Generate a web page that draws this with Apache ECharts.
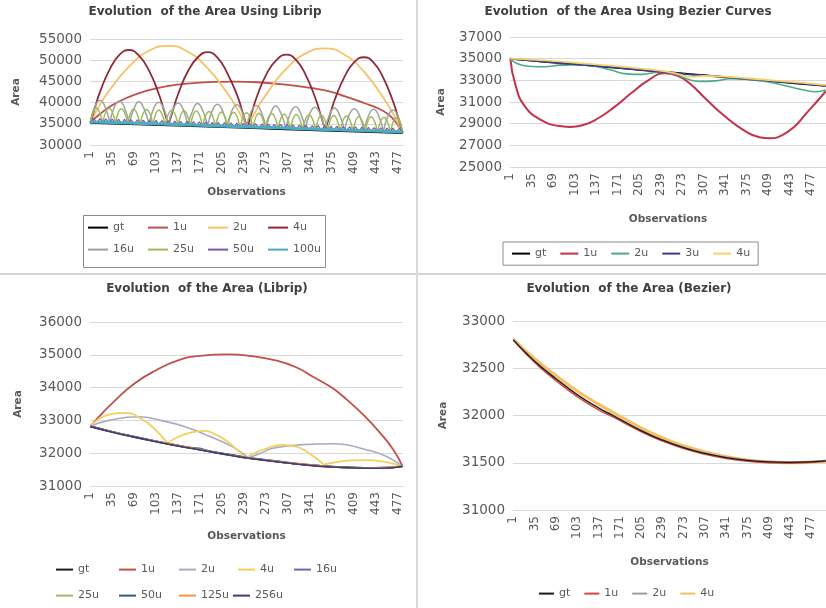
<!DOCTYPE html>
<html><head><meta charset="utf-8">
<script src="https://cdn.jsdelivr.net/npm/echarts/dist/echarts.min.js"></script>
<style>html,body{margin:0;padding:0;background:#fff}#c{width:826px;height:608px}</style>
</head><body><div id="c"></div>
<script>
// ---------- categories & ticks ----------
const obsLibrip = Array.from({length: 485}, (_, i) => String(i + 1));
const obsBezier = Array.from({length: 500}, (_, i) => String(i + 1));
const titles = ['Evolution  of the Area Using Librip', 'Evolution  of the Area Using Bezier Curves', 'Evolution  of the Area (Librip)', 'Evolution  of the Area (Bezier)'];
const yRange1 = [30000, 55000, 5000];
const yRange2 = [25000, 37000, 2000];
const yRange3 = [31000, 36000, 1000];
const yRange4 = [31000, 33000, 500];

// ---------- Panel 1 : Librip ----------
const p1Gt = [[1,35300],[61,35000],[122,34700],[183,34400],[243,34100],[304,33800],[364,33500],[425,33200],[485,32900]];
const p1U1 = [[1,35300],[15,37200],[34,39300],[60,41300],[86,42700],[120,43900],[160,44600],[200,44900],[225,44950],[260,44800],[300,44300],[345,43400],[370,42700],[397,41400],[425,39900],[449,38500],[468,36500],[485,32900]];
const p1U2 = [
 [[1,35300],[16,39530],[31,43000],[62,48650],[92,52240],[122,53400],[153,51940],[183,48050],[214,42090],[229,38470],[244,34100]],
 [[244,34100],[259,38470],[274,42050],[304,47890],[335,51600],[365,52800],[395,51300],[425,47290],[455,41150],[470,37420],[485,32900]]
];
const p1U4 = [
 [[1,35300],[9,39260],[16,42530],[31,47850],[46,51260],[61,52400],[76,51110],[92,47550],[107,42080],[114,38740],[122,34700]],
 [[122,34700],[130,38690],[137,41980],[152,47330],[168,50750],[183,51900],[198,50610],[213,47030],[229,41520],[236,38170],[244,34100]],
 [[244,34100],[252,38090],[259,41380],[274,46730],[290,50150],[305,51300],[320,50000],[335,46430],[350,40920],[357,37570],[365,33500]],
 [[365,33500],[373,37490],[380,40780],[395,46130],[410,49560],[425,50700],[440,49410],[455,45830],[470,40330],[477,36970],[485,32900]]
];
const p1U16 = [
 [[1,35300],[8,39000],[16,40525],[24,38950],[31,35150]],
 [[31,35150],[38,38850],[46,40375],[54,38800],[61,35000]],
 [[61,35000],[69,38700],[76,40225],[84,38650],[92,34850]],
 [[92,34850],[99,38550],[107,40075],[115,38500],[122,34700]],
 [[122,34700],[129,38400],[137,39925],[145,38350],[152,34550]],
 [[152,34550],[160,38250],[167,39775],[175,38200],[183,34400]],
 [[183,34400],[190,38100],[198,39625],[206,38050],[213,34250]],
 [[213,34250],[220,37950],[228,39475],[236,37900],[243,34100]],
 [[243,34100],[250,37800],[258,39325],[266,37750],[273,33950]],
 [[273,33950],[281,37650],[288,39175],[296,37600],[304,33800]],
 [[304,33800],[311,37500],[319,39025],[327,37450],[334,33650]],
 [[334,33650],[341,37350],[349,38875],[357,37300],[364,33500]],
 [[364,33500],[372,37200],[379,38725],[387,37150],[395,33350]],
 [[395,33350],[402,37050],[410,38575],[418,37000],[425,33200]],
 [[425,33200],[432,36900],[440,38425],[448,36850],[455,33050]],
 [[455,33050],[462,36750],[470,38275],[478,36700],[485,32900]]
];
const p1U25 = [
 [[1,35300],[10,38760],[20,35210]],[[20,35210],[30,38660],[40,35110]],[[40,35110],[49,38560],[59,35010]],
 [[59,35010],[68,38470],[78,34920]],[[78,34920],[88,38370],[98,34820]],[[98,34820],[107,38270],[117,34720]],
 [[117,34720],[127,38180],[137,34630]],[[137,34630],[146,38080],[156,34530]],[[156,34530],[165,37990],[175,34440]],
 [[175,34440],[185,37890],[195,34340]],[[195,34340],[204,37790],[214,34240]],[[214,34240],[223,37700],[233,34150]],
 [[233,34150],[243,37600],[253,34050]],[[253,34050],[262,37510],[272,33960]],[[272,33960],[282,37410],[292,33860]],
 [[292,33860],[301,37310],[311,33760]],[[311,33760],[320,37220],[330,33670]],[[330,33670],[340,37120],[350,33570]],
 [[350,33570],[359,37020],[369,33470]],[[369,33470],[378,36930],[388,33380]],[[388,33380],[398,36830],[408,33280]],
 [[408,33280],[417,36740],[427,33190]],[[427,33190],[436,36640],[446,33090]],[[446,33090],[456,36540],[466,32990]],
 [[466,32990],[475,36450],[485,32900]]
];
const p1U50 = [[1,35300],[6,36280],[11,35250],[16,36230],[20,35200],[25,36180],[30,35160],[35,36130],[40,35110],[45,36080],[49,35060],[54,36040],[59,35010],[64,35990],[69,34960],[74,35940],[78,34920],[83,35890],[88,34870],[93,35840],[98,34820],[103,35800],[107,34770],[112,35750],[117,34720],[122,35700],[127,34680],[132,35650],[136,34630],[141,35600],[146,34580],[151,35560],[156,34530],[161,35510],[165,34480],[170,35460],[175,34440],[180,35410],[185,34390],[190,35360],[195,34340],[199,35320],[204,34290],[209,35270],[214,34240],[219,35220],[224,34200],[228,35170],[233,34150],[238,35120],[243,34100],[248,35080],[253,34050],[257,35030],[262,34000],[267,34980],[272,33960],[277,34930],[282,33910],[286,34880],[291,33860],[296,34840],[301,33810],[306,34790],[311,33760],[315,34740],[320,33720],[325,34690],[330,33670],[335,34640],[340,33620],[345,34600],[349,33570],[354,34550],[359,33520],[364,34500],[369,33480],[374,34450],[378,33430],[383,34400],[388,33380],[393,34360],[398,33330],[403,34310],[407,33280],[412,34260],[417,33240],[422,34210],[427,33190],[432,34160],[436,33140],[441,34120],[446,33090],[451,34070],[456,33040],[461,34020],[465,33000],[470,33970],[475,32950],[480,33920],[485,32900]];
const p1U100 = [[1,35450],[40,35280],[80,35090],[122,34880],[160,34690],[200,34500],[243,34280],[280,34100],[320,33900],[364,33680],[400,33500],[440,33300],[485,33050]];

// ---------- Panel 2 : Bezier curves ----------
const p2Gt = [[1,35000],[35,34830],[69,34660],[103,34490],[137,34320],[171,34150],[205,33980],[239,33800],[273,33630],[307,33460],[341,33290],[375,33120],[409,32950],[443,32780],[477,32610],[500,32500]];
const p2U1 = [[1,35000],[9,32600],[24,30600],[51,29300],[76,28800],[95,28700],[115,28850],[140,29500],[166,30550],[192,31800],[218,32950],[245,33650],[265,33450],[285,32700],[310,31300],[340,29700],[370,28400],[395,27750],[412,27650],[430,27900],[450,28700],[470,30000],[490,31300],[500,32000]];
const p2U2 = [[1,35000],[10,34600],[30,34300],[55,34250],[80,34400],[110,34450],[135,34300],[160,33950],[185,33600],[210,33550],[235,33750],[255,33700],[280,33150],[300,32900],[325,32950],[350,33150],[380,33050],[410,32850],[440,32450],[465,32100],[485,31950],[500,32100]];
const p2U3 = [[1,35000],[40,34780],[80,34560],[120,34400],[160,34200],[200,34000],[240,33780],[280,33580],[320,33400],[360,33200],[400,33000],[440,32800],[480,32600],[500,32480]];
const p2U4 = [[1,35000],[40,34880],[80,34720],[120,34540],[160,34350],[200,34120],[240,33870],[265,33600],[285,33350],[305,33400],[340,33350],[380,33170],[420,32980],[460,32780],[500,32560]];

// ---------- Panel 3 : Librip ----------
const p3Gt = [[1,32820],[35,32650],[69,32500],[103,32360],[137,32230],[171,32110],[205,31990],[239,31880],[273,31790],[307,31710],[341,31640],[375,31590],[409,31560],[443,31550],[470,31570],[485,31600]];
const p3U1 = [[1,32820],[20,33230],[40,33620],[69,34120],[103,34530],[137,34830],[171,34970],[215,35010],[250,34960],[290,34820],[320,34620],[346,34330],[375,34000],[398,33640],[425,33150],[450,32620],[470,32120],[485,31600]];
const p3U2 = [
 [[1,32820],[30,33000],[76,33110],[110,33000],[149,32800],[185,32520],[221,32200],[246,31860]],
 [[246,31860],[265,32000],[284,32150],[330,32260],[377,32290],[430,32100],[460,31900],[485,31600]]
];
const p3U4 = [
 [[1,32820],[15,33050],[35,33200],[55,33230],[80,33050],[100,32750],[121,32300]],
 [[121,32300],[135,32480],[155,32620],[177,32680],[200,32520],[220,32250],[242,31850]],
 [[242,31850],[255,32000],[275,32150],[300,32250],[320,32200],[340,32000],[363,31650]],
 [[363,31650],[380,31720],[405,31780],[430,31790],[455,31740],[470,31680],[485,31600]]
];
const p3U16 = [[1,32820],[30,32680],[61,32540],[91,32410],[121,32290],[150,32180],[171,32150],[182,32080],[212,31970],[242,31850],[255,31840],[272,31790],[303,31710],[333,31650],[363,31600],[394,31565],[424,31545],[455,31550],[485,31600]];
const p3U25 = [[1,32820],[40,32630],[80,32450],[121,32300],[160,32150],[200,32000],[242,31870],[280,31770],[320,31680],[363,31610],[400,31565],[440,31545],[485,31600]];
const p3U50 = [[1,32820],[50,32580],[100,32370],[150,32190],[200,32010],[250,31850],[300,31720],[350,31630],[400,31570],[450,31550],[485,31600]];
const p3U125 = [[1,32820],[60,32530],[121,32300],[182,32070],[242,31870],[303,31720],[363,31610],[424,31550],[485,31600]];
const p3U256 = [[1,32810],[35,32640],[69,32490],[103,32350],[137,32220],[171,32100],[205,31980],[239,31870],[273,31780],[307,31700],[341,31630],[375,31580],[409,31550],[443,31540],[470,31560],[485,31600]];

// ---------- Panel 4 : Bezier ----------
const p4Gt = [[1,32800],[23,32650],[46,32510],[69,32390],[103,32220],[137,32080],[160,32000],[205,31840],[239,31740],[273,31660],[307,31600],[341,31555],[375,31525],[409,31510],[443,31505],[477,31510],[500,31520]];
const p4U1 = [[1,32800],[23,32640],[46,32495],[69,32370],[103,32200],[137,32060],[160,31985],[205,31830],[239,31730],[273,31650],[307,31590],[341,31545],[375,31515],[409,31500],[443,31495],[477,31505],[500,31515]];
const p4U2 = [[1,32800],[23,32655],[46,32515],[69,32395],[103,32225],[137,32085],[160,32005],[205,31845],[239,31745],[273,31665],[307,31605],[341,31560],[375,31530],[409,31515],[443,31510],[477,31515],[500,31525]];
const p4U4 = [[1,32810],[23,32670],[46,32540],[69,32425],[103,32260],[137,32120],[160,32035],[205,31870],[239,31765],[273,31680],[307,31615],[341,31565],[375,31530],[409,31510],[443,31500],[477,31505],[500,31515]];

// ---------- helpers ----------
const FONT = 'DejaVu Sans';
function pts(list) { return list.map(p => [p[0] - 1, p[1]]); }
function arches(segs) {
  const out = [];
  segs.forEach((s, i) => {
    if (i > 0) out.push([s[0][0] - 1, '-']);
    s.forEach(p => out.push([p[0] - 1, p[1]]));
  });
  return out;
}
function mk(name, g, color, data, width, smooth, extra) {
  return Object.assign({
    type: 'line', name: name, xAxisIndex: g, yAxisIndex: g, data: data,
    symbol: 'none', showSymbol: false, smooth: smooth, connectNulls: false,
    lineStyle: { color: color, width: width }, itemStyle: { color: color },
    emphasis: { disabled: true }, silent: true, animation: false
  }, extra || {});
}
function xAx(g, cats, gap) {
  return {
    type: 'category', gridIndex: g, data: cats, boundaryGap: true,
    axisTick: { show: false }, axisLine: { lineStyle: { color: '#d9d9d9' } },
    axisLabel: { interval: 33, rotate: 90, fontSize: 12, color: '#595959', margin: 6, fontFamily: FONT },
    splitLine: { show: false },
    name: 'Observations', nameLocation: 'middle', nameGap: gap,
    nameTextStyle: { fontWeight: 'bold', fontSize: 10.5, color: '#595959', fontFamily: FONT }
  };
}
function yAx(g, r, gap) {
  return {
    type: 'value', gridIndex: g, min: r[0], max: r[1], interval: r[2],
    axisLine: { show: false }, axisTick: { show: false },
    axisLabel: { fontSize: 13.5, color: '#595959', margin: 8, fontFamily: FONT, formatter: v => String(v) },
    splitLine: { lineStyle: { color: '#d9d9d9', width: 1 } },
    name: 'Area', nameLocation: 'middle', nameGap: gap,
    nameTextStyle: { fontWeight: 'bold', fontSize: 10.5, color: '#595959', fontFamily: FONT }
  };
}
const strip = n => n.split('|')[1];
const titleStyle = { fontSize: 12, fontWeight: 'bold', color: '#404040', fontFamily: FONT };
const noSym = { opacity: 0, borderWidth: 0 };
const legTS = { fontSize: 11, color: '#595959', fontFamily: FONT };

// legend item placement (layout only): [seriesName, left, top, lineLength]
const legendSlots = [
  ['a|gt', 87, 222, 20], ['a|1u', 147, 222, 20], ['a|2u', 207, 222, 20], ['a|4u', 267, 222, 20],
  ['a|16u', 87, 244, 20], ['a|25u', 147, 244, 20], ['a|50u', 207, 244, 20], ['a|100u', 267, 244, 20],
  ['c|gt', 55, 564, 17], ['c|1u', 118, 564, 17], ['c|2u', 178, 564, 17], ['c|4u', 237, 564, 17], ['c|16u', 293, 564, 17],
  ['c|25u', 55, 590, 17], ['c|50u', 118, 590, 17], ['c|125u', 178, 590, 17], ['c|256u', 232, 590, 17]
];
const legends = legendSlots.map(s => ({
  data: [s[0]], formatter: strip, left: s[1], top: s[2], itemWidth: s[3], itemHeight: 14,
  padding: 0, itemStyle: noSym, textStyle: legTS, selectedMode: false
}));
legends.push(
  { data: ['b|gt','b|1u','b|2u','b|3u','b|4u'], formatter: strip,
    left: 503, top: 242, itemWidth: 18, itemHeight: 14, itemGap: 13, itemStyle: noSym,
    padding: [6, 8], borderColor: '#8c8c8c', borderWidth: 1, textStyle: legTS, selectedMode: false },
  { data: ['d|gt','d|1u','d|2u','d|4u'], formatter: strip,
    left: 538, top: 588, itemWidth: 15, itemHeight: 14, itemGap: 13, padding: 0, itemStyle: noSym,
    textStyle: legTS, selectedMode: false }
);

const option = {
  backgroundColor: '#ffffff',
  animation: false,
  textStyle: { fontFamily: FONT },
  title: [
    { text: titles[0], left: 205, top: 6, textAlign: 'center', padding: 0, textStyle: titleStyle },
    { text: titles[1], left: 628, top: 6, textAlign: 'center', padding: 0, textStyle: titleStyle },
    { text: titles[2], left: 207, top: 283, textAlign: 'center', padding: 0, textStyle: titleStyle },
    { text: titles[3], left: 629, top: 283, textAlign: 'center', padding: 0, textStyle: titleStyle }
  ],
  grid: [
    { left: 90, top: 39, width: 313, height: 106 },
    { left: 510, top: 37, width: 318, height: 130 },
    { left: 90, top: 322, width: 313, height: 164 },
    { left: 513, top: 321, width: 317, height: 189 }
  ],
  xAxis: [xAx(0, obsLibrip, 42), xAx(1, obsBezier, 47), xAx(2, obsLibrip, 45), xAx(3, obsBezier, 47)],
  yAxis: [yAx(0, yRange1, 68), yAx(1, yRange2, 63), yAx(2, yRange3, 66), yAx(3, yRange4, 64)],
  legend: legends,
  graphic: [
    { type: 'line', shape: { x1: 0, y1: 274, x2: 826, y2: 274 }, style: { stroke: '#d4d4d4', lineWidth: 2 }, silent: true },
    { type: 'line', shape: { x1: 417, y1: 0, x2: 417, y2: 608 }, style: { stroke: '#dadada', lineWidth: 2 }, silent: true },
    { type: 'rect', shape: { x: 83.5, y: 215.5, width: 242, height: 52 }, style: { fill: 'none', stroke: '#8c8c8c', lineWidth: 1 }, silent: true }
  ],
  series: [
    mk('a|gt', 0, '#000000', pts(p1Gt), 2.5, false),
    mk('a|1u', 0, '#c0504d', pts(p1U1), 1.8, 0.5),
    mk('a|2u', 0, '#f5c366', arches(p1U2), 1.8, 0.5),
    mk('a|4u', 0, '#8e2a3a', arches(p1U4), 1.8, 0.5),
    mk('a|16u', 0, '#a0a0a0', arches(p1U16), 1.5, 0.5),
    mk('a|25u', 0, '#9bbb59', arches(p1U25), 1.5, 0.5),
    mk('a|50u', 0, '#7e57a8', pts(p1U50), 1.2, false),
    mk('a|100u', 0, '#4bacc6', pts(p1U100), 3, 0.5),

    mk('b|gt', 1, '#000000', pts(p2Gt), 2, 0.5),
    mk('b|1u', 1, '#c4314b', pts(p2U1), 2, 0.5),
    mk('b|2u', 1, '#4daa88', pts(p2U2), 1.6, 0.5),
    mk('b|3u', 1, '#3b3b98', pts(p2U3), 1.5, 0.5),
    mk('b|4u', 1, '#f5d26a', pts(p2U4), 1.8, 0.5),

    mk('c|gt', 2, '#1a1a2e', pts(p3Gt), 2, 0.5),
    mk('c|1u', 2, '#c0504d', pts(p3U1), 1.8, 0.5),
    mk('c|2u', 2, '#a9a9c9', arches(p3U2), 1.6, 0.5),
    mk('c|4u', 2, '#f2d05c', arches(p3U4), 1.8, 0.5),
    mk('c|16u', 2, '#6a6aa8', pts(p3U16), 1.5, 0.5),
    mk('c|25u', 2, '#9bbb59', pts(p3U25), 1.5, 0.5),
    mk('c|50u', 2, '#2e5e6e', pts(p3U50), 1.5, 0.5),
    mk('c|125u', 2, '#f79646', pts(p3U125), 1.5, 0.5),
    mk('c|256u', 2, '#3d3d7a', pts(p3U256), 1.6, 0.5),

    mk('d|gt', 3, '#1a1a1a', pts(p4Gt), 1.3, 0.5, { z: 4 }),
    mk('d|1u', 3, '#d9473f', pts(p4U1), 1.5, 0.5, { z: 3 }),
    mk('d|2u', 3, '#9e9e9e', pts(p4U2), 1.3, 0.5, { z: 3 }),
    mk('d|4u', 3, '#f7c15f', pts(p4U4), 3, 0.5, { z: 2 })
  ]
};
const chart = echarts.init(document.getElementById('c'), null, { renderer: 'canvas', width: 826, height: 608 });
chart.setOption(option);
</script></body></html>
